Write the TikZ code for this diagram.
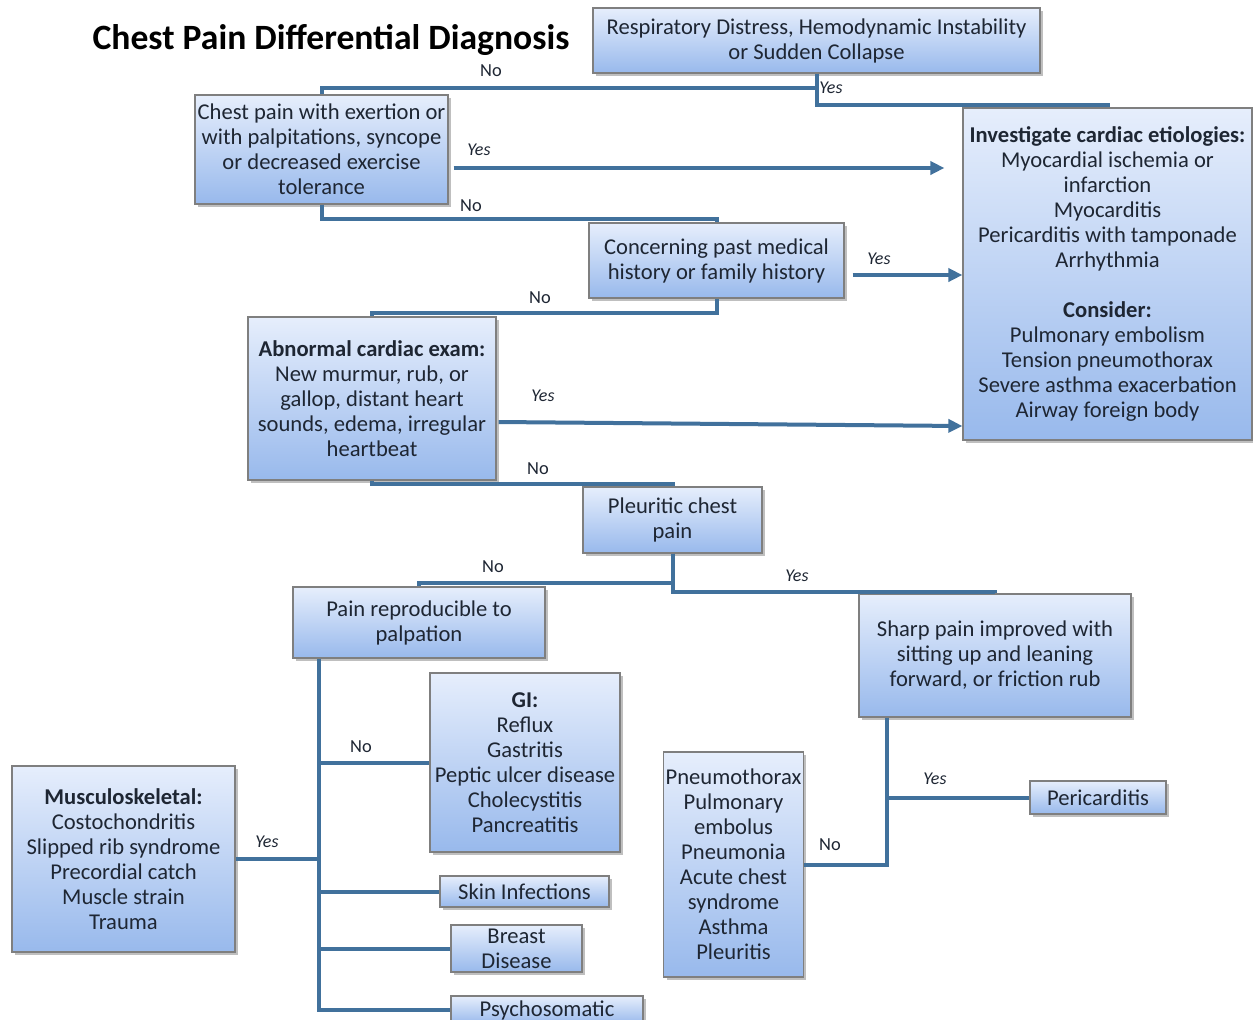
\documentclass[tikz,border=0pt]{standalone}
\usepackage{fontspec}
\setmainfont{Carlito}
\usetikzlibrary{arrows.meta,calc,shadows}
\definecolor{ln}{HTML}{41719C}
\definecolor{bxt}{HTML}{E6EEFC}
\definecolor{bxb}{HTML}{98B9EC}
\definecolor{bxd}{HTML}{7F7F7F}
\definecolor{txt}{HTML}{1E2633}
\begin{document}
\begin{tikzpicture}[x=0.5pt,y=-0.5pt,
 box/.style={draw=bxd, line width=0.6pt, top color=bxt, bottom color=bxb, align=center, inner sep=1pt,
   font=\fontsize{11.3}{12.5}\selectfont, text=txt,
   drop shadow={shadow xshift=1.5pt, shadow yshift=-1.5pt, fill=black, opacity=0.25}},
 conn/.style={draw=ln, line width=2pt},
 arr/.style={conn, -{Triangle[length=7pt,width=6.5pt]}},
 yes/.style={font=\fontsize{9}{10}\selectfont\itshape, text=txt, inner sep=0pt},
 no/.style={font=\fontsize{9.2}{10}\selectfont, text=txt, inner sep=0pt}]
\fill[white] (0,0) rectangle (1253,1019);
\useasboundingbox (0,0) rectangle (1253,1019);

\node[font=\fontsize{17.8}{20}\selectfont\bfseries, text=black] (title) at (331,40) {Chest Pain Differential Diagnosis};

\node[box, minimum width=223.5pt, minimum height=32.5pt] (resp) at (816.5,40.5) {Respiratory Distress, Hemodynamic Instability\\or Sudden Collapse};
\node[box, minimum width=126.5pt, minimum height=54.5pt] (exert) at (321.5,149.5) {Chest pain with exertion or\\with palpitations, syncope\\or decreased exercise\\tolerance};
\node[box, minimum width=127.5pt, minimum height=37.5pt] (conc) at (716.5,260.5) {Concerning past medical\\history or family history};
\node[box, minimum width=124pt, minimum height=81.5pt] (abn) at (372,398.5) {\textbf{Abnormal cardiac exam:}\\New murmur, rub, or\\gallop, distant heart\\sounds, edema, irregular\\heartbeat};
\node[box, minimum width=144.5pt, minimum height=166pt] (invest) at (1107.5,274) {\textbf{Investigate cardiac etiologies:}\\Myocardial ischemia or\\infarction\\Myocarditis\\Pericarditis with tamponade\\Arrhythmia\\[12.5pt]\textbf{Consider:}\\Pulmonary embolism\\Tension pneumothorax\\Severe asthma exacerbation\\Airway foreign body};
\node[box, minimum width=89.5pt, minimum height=33pt] (pleur) at (672.5,520) {Pleuritic chest\\pain};
\node[box, minimum width=126pt, minimum height=35.5pt] (pain) at (419,622.5) {Pain reproducible to\\palpation};
\node[box, minimum width=136pt, minimum height=61.5pt] (sharp) at (995,655.5) {Sharp pain improved with\\sitting up and leaning\\forward, or friction rub};
\node[box, minimum width=95pt, minimum height=89.5pt] (gi) at (525,762.5) {\textbf{GI:}\\Reflux\\Gastritis\\Peptic ulcer disease\\Cholecystitis\\Pancreatitis};
\node[box, minimum width=111.5pt, minimum height=93pt] (musc) at (123.5,859) {\textbf{Musculoskeletal:}\\Costochondritis\\Slipped rib syndrome\\Precordial catch\\Muscle strain\\Trauma};
\node[box, minimum width=84.5pt, minimum height=15.5pt] (skin) at (524.5,891.5) {Skin Infections};
\node[box, minimum width=65.5pt, minimum height=23.5pt] (breast) at (516.5,948.5) {Breast\\Disease};
\node[box, minimum width=96pt, minimum height=14pt] (psych) at (547,1010) {Psychosomatic};
\node[box, minimum width=68pt, minimum height=16.5pt] (peri) at (1098,797.5) {Pericarditis};
\node[box, minimum width=69.5pt, minimum height=112.5pt] (pneumo) at (733.5,864.5) {Pneumothorax\\Pulmonary\\embolus\\Pneumonia\\Acute chest\\syndrome\\Asthma\\Pleuritis};

% connectors
\draw[conn] (resp.south) -- ++(0,31) -| (invest.north);
\draw[conn] ($(resp.south)+(0,14)$) -| (exert.north);
\coordinate (a1s) at ($(exert.east)+(5,18.5)$);
\coordinate (a1e) at ($(invest.west)+(-18,0)$);
\draw[arr] (a1s) -- (a1s -| a1e);
\draw[conn] (exert.south) -- ++(0,14) -| (conc.north);
\coordinate (a2s) at ($(conc.east)+(8,14.5)$);
\draw[arr] (a2s) -- (a2s -| invest.west);
\draw[conn] (conc.south) -- ++(0,14) -| (abn.north);
\draw[arr] ($(abn.east)+(2,23.5)$) -- ($(invest.west)+(0,152)$);
\draw[conn] (abn.south) -- ++(0,3) -| (pleur.north);
\draw[conn] (pleur.south) -- ++(0,29) -| (pain.north);
\draw[conn] (pleur.south) -- ++(0,38) -| (sharp.north);

\coordinate (sp) at ($(pain.south west)+(27,0)$);
\draw[conn] (sp) |- (psych.west);
\draw[conn] (sp |- gi.west) -- (gi.west);
\draw[conn] (musc.east) -- (musc.east -| sp);
\draw[conn] (sp |- skin.west) -- (skin.west);
\draw[conn] (sp |- breast.west) -- (breast.west);

\coordinate (sp2) at ($(sharp.south west)+(29,0)$);
\draw[conn] (sp2) |- (pneumo.east);
\draw[conn] (sp2 |- peri.west) -- (peri.west);

% labels
\node[no] (l1) at (491,71) {No};
\node[yes] (l2) at (831,88) {Yes};
\node[yes] (l3) at (479,150) {Yes};
\node[no] (l4) at (471,206) {No};
\node[yes] (l5) at (879,259) {Yes};
\node[no] (l6) at (540,298) {No};
\node[yes] (l7) at (543,396) {Yes};
\node[no] (l8) at (538,469) {No};
\node[no] (l9) at (493,567) {No};
\node[yes] (l10) at (797,576) {Yes};
\node[no] (l11) at (361,747) {No};
\node[yes] (l12) at (267,842) {Yes};
\node[yes] (l13) at (935,779) {Yes};
\node[no] (l14) at (830,845) {No};
\end{tikzpicture}
\end{document}
